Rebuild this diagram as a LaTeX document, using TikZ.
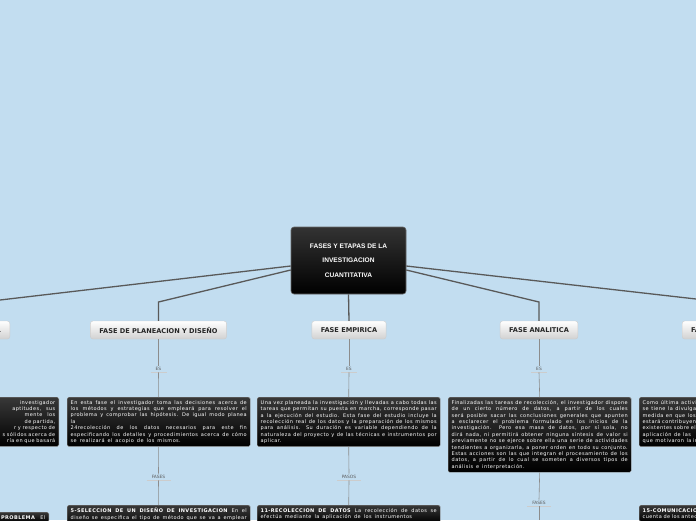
\documentclass[tikz,border=0pt]{standalone}
\usepackage{fontspec}
\setmainfont{DejaVu Sans}
\newfontfamily\boxfont[LetterSpace=8,WordSpace={1.5}]{DejaVu Sans}
\newfontfamily\rootfont{Liberation Sans}
\hyphenpenalty=10000
\exhyphenpenalty=10000
\begin{document}
\begin{tikzpicture}[x=1pt,y=-1pt,
  mainline/.style={draw=black!65,line width=1.3pt},
  subline/.style={draw=black!45,line width=0.6pt},
  rootbox/.style={draw=black!60,line width=0.6pt,rounded corners=3pt,top color=black!80,bottom color=black,minimum width=115pt,minimum height=67pt,text=white,font=\rootfont\fontsize{6.6}{14.5}\selectfont\bfseries,align=center},
  phasebox/.style={draw=black!20,rounded corners=2.5pt,top color=white,bottom color=black!18,minimum height=18pt,inner xsep=9pt,font=\fontsize{6.6}{7}\selectfont\bfseries,text=black!85},
  textbox/.style={draw=black!45,rounded corners=1.5pt,top color=black!78,bottom color=black,text=white!92,font=\boxfont\fontsize{5.0}{6.4}\selectfont,align=justify,text width=176pt,inner xsep=3.5pt,inner ysep=3pt,anchor=north west},
  lab/.style={font=\fontsize{4.4}{5}\selectfont,text=black!65,inner sep=1.5pt},
]
\useasboundingbox (0,0) rectangle (696,520);
\clip (0,0) rectangle (696,520);
\fill[fill={rgb,255:red,194;green,221;blue,240}] (0,0) rectangle (696,520);

% root
\node[rootbox] (root) at (348.5,260.5) {FASES Y ETAPAS DE LA\\INVESTIGACION\\CUANTITATIVA};

% phase boxes
\node[phasebox,anchor=east] (pl) at (10,330) {FASE CONCEPTUAL};
\node[phasebox] (pp) at (158.5,330) {FASE DE PLANEACION Y DISEÑO};
\node[phasebox] (pe) at (349,330) {FASE EMPIRICA};
\node[phasebox] (pa) at (539,330) {FASE ANALITICA};
\node[phasebox,anchor=west] (pr) at (682,330) {FASE DE DIFUSION};

% main connectors
\coordinate (kl) at (0,300);
\coordinate (kp) at (158.5,302);
\coordinate (ka) at (539,302);
\coordinate (kr) at (696,299);
\draw[mainline] (root.west|-0,266) -- (kl);
\draw[mainline] (root.west|-0,270) -- (kp) -- (pp.north);
\draw[mainline] (root.south) -- (pe.north);
\draw[mainline] (root.east|-0,270) -- (ka) -- (pa.north);
\draw[mainline] (root.east|-0,266) -- (kr);

% ES labels
\node[lab] (es1) at (158.5,369) {ES};
\node[lab] (es2) at (349,369) {ES};
\node[lab] (es3) at (539,369) {ES};
\foreach \n in {es1,es2,es3}{\draw[draw=black!20,line width=0.5pt] ([xshift=-8pt]\n.south) -- ([xshift=8pt]\n.south);}

% text boxes
\node[textbox] (tp) at (67,397) {En esta fase el investigador toma las decisiones acerca de los métodos y estrategias que empleará para resolver el problema y comprobar las hipótesis. De igual modo planea la\\24recolección de los datos necesarios para este fin especificando los detalles y procedimientos acerca de cómo se realizará el acopio de los mismos.};
\node[textbox] (te) at (257,397) {Una vez planeada la investigación y llevadas a cabo todas las tareas que permitan su puesta en marcha, corresponde pasar a la ejecución del estudio. Esta fase del estudio incluye la recolección real de los datos y la preparación de los mismos para análisis. Su duración es variable dependiendo de la naturaleza del proyecto y de las técnicas e instrumentos por aplicar.};
\node[textbox] (ta) at (448,397) {Finalizadas las tareas de recolección, el investigador dispone de un cierto número de datos, a partir de los cuales será posible sacar las conclusiones generales que apunten a esclarecer el problema formulado en los inicios de la investigación. Pero esa masa de datos, por sí sola, no dirá nada, ni permitirá obtener ninguna síntesis de valor si previamente no se ejerce sobre ella una serie de actividades tendientes a organizarla, a poner orden en todo su conjunto. Estas acciones son las que integran el procesamiento de los datos, a partir de lo cual se someten a diversos tipos de análisis e interpretación.};
\node[textbox,anchor=north east,align=right,text width=140pt] (tl) at (59,397) {investigador\\aptitudes,\quad sus\\mente\quad los\\de partida,\\r y respecto de\\s sólidos acerca de\\ría en que basará};
\node[textbox,align=left] (tr) at (639,397) {Como\enspace última\enspace actividad\\se\enspace tiene\enspace la\enspace divulgación\\medida\enspace en\enspace que\enspace los\\estará contribuyendo\\existentes sobre el tema\\aplicación\enspace de\enspace las\\que\enspace motivaron\enspace la investigación};

\draw[subline] (pp.south) -- (es1.north);
\draw[subline] (es1.south) -- (tp.north);
\draw[subline] (pe.south) -- (es2.north);
\draw[subline] (es2.south) -- (te.north);
\draw[subline] (pa.south) -- (es3.north);
\draw[subline] (es3.south) -- (ta.north);

% second labels
\node[lab] (f1) at (158.5,477) {FASES};
\node[lab] (f2) at (349,477) {PASOS};
\node[lab] (f3) at (539,503) {FASES};
\foreach \n in {f1,f2,f3}{\draw[draw=black!20,line width=0.5pt] ([xshift=-12pt]\n.south) -- ([xshift=12pt]\n.south);}

% bottom boxes
\node[textbox] (bp) at (67,505) {\textbf{5-SELECCION DE UN DISEÑO DE INVESTIGACION} En el diseño se especifica el tipo de método que se va a emplear y};
\node[textbox] (be) at (257,505) {\textbf{11-RECOLECCION DE DATOS} La recolección de datos se efectúa mediante la aplicación de los instrumentos};
\node[textbox,anchor=north east,align=right,text width=140pt] (bl) at (49,512) {\textbf{L PROBLEMA}\quad El};
\node[textbox,align=left] (br) at (639,505) {\textbf{15-COMUNICACION DE LOS RESULTADOS} Se da\\cuenta de los antecedentes};
\coordinate (fa3) at (539,520);
\draw[subline] (tp.south) -- (f1.north);
\draw[subline] (f1.south) -- (bp.north);
\draw[subline] (te.south) -- (f2.north);
\draw[subline] (f2.south) -- (be.north);
\draw[subline] (ta.south) -- (f3.north);
\draw[subline] (f3.south) -- (fa3);
\end{tikzpicture}
\end{document}
